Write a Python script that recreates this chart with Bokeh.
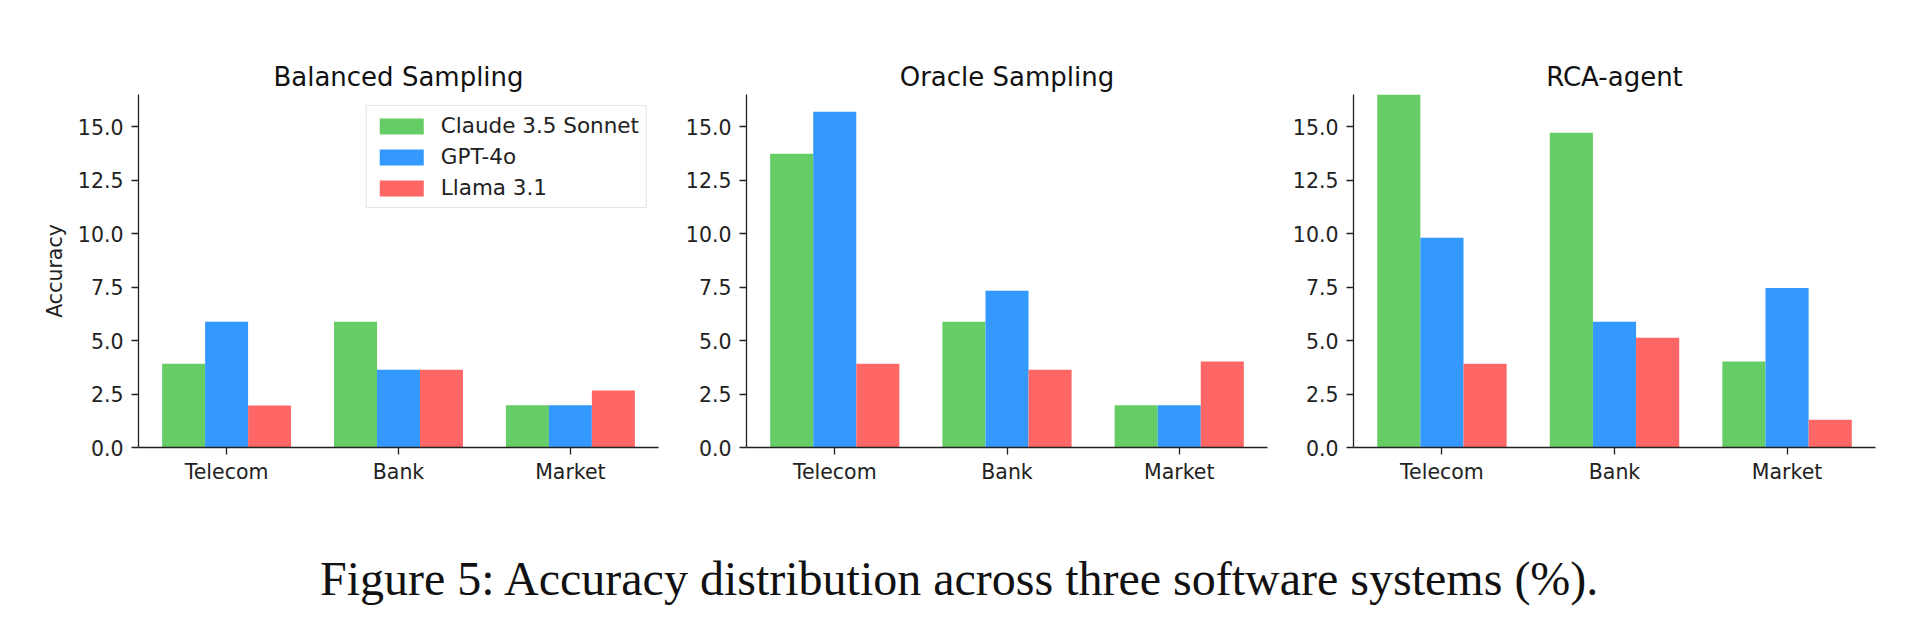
from bokeh.plotting import figure
from bokeh.models import Range1d, FixedTicker, Legend, LegendItem, Label, PrintfTickFormatter
from bokeh.layouts import row, column
from bokeh.embed import file_html
from bokeh.resources import INLINE

# ---- data ----
categories = ["Telecom", "Bank", "Market"]
models = ["Claude 3.5 Sonnet", "GPT-4o", "Llama 3.1"]
colors = ["#66cc66", "#3399ff", "#ff6666"]
panel_titles = ["Balanced Sampling", "Oracle Sampling", "RCA-agent"]

balanced_claude = [3.92, 5.88, 1.98]
balanced_gpt = [5.88, 3.64, 1.98]
balanced_llama = [1.96, 3.64, 2.67]

oracle_claude = [13.73, 5.88, 1.98]
oracle_gpt = [15.69, 7.33, 1.98]
oracle_llama = [3.92, 3.64, 4.02]

rca_claude = [16.50, 14.71, 4.02]
rca_gpt = [9.80, 5.88, 7.45]
rca_llama = [3.92, 5.13, 1.30]

y_ticks = [0, 2.5, 5, 7.5, 10, 12.5, 15]
y_max = 16.5
bar_width = 0.25
caption = "Figure 5: Accuracy distribution across three software systems (%)."

FONT = "DejaVu Sans"
TXT = "#222222"


def make_panel(title, series, width, left, right, ylabel=None, legend=False):
    n = len(categories)
    span = (n - 1) + len(series) * bar_width
    pad = 0.05 * span
    lo = -len(series) * bar_width / 2 - pad
    hi = (n - 1) + len(series) * bar_width / 2 + pad
    p = figure(width=width, height=500, x_range=Range1d(lo, hi), y_range=Range1d(0, y_max),
               output_backend="svg", toolbar_location=None,
               min_border_left=left, min_border_right=right,
               min_border_top=94, min_border_bottom=53, title=title)
    p.outline_line_color = None
    p.grid.visible = False
    p.background_fill_color = "white"
    p.border_fill_color = "white"
    p.title.text_font = FONT
    p.title.text_font_size = "26px"
    p.title.text_font_style = "normal"
    p.title.text_color = "#111111"
    p.title.align = "center"
    p.title.standoff = 5

    renderers = []
    for j, vals in enumerate(series):
        xs = [i + (j - (len(series) - 1) / 2) * bar_width for i in range(n)]
        r = p.vbar(x=xs, top=vals, bottom=0, width=bar_width,
                   fill_color=colors[j], line_color=None)
        renderers.append(r)

    p.xaxis.ticker = FixedTicker(ticks=list(range(n)))
    p.xaxis.major_label_overrides = {i: c for i, c in enumerate(categories)}
    p.yaxis.ticker = FixedTicker(ticks=y_ticks)
    p.yaxis.formatter = PrintfTickFormatter(format="%.1f")
    for ax in (p.xaxis[0], p.yaxis[0]):
        ax.axis_line_color = TXT
        ax.axis_line_width = 1.3
        ax.major_tick_line_color = TXT
        ax.major_tick_line_width = 1.3
        ax.major_tick_out = 7
        ax.major_tick_in = 0
        ax.minor_tick_out = 0
        ax.minor_tick_in = 0
        ax.major_label_text_font = FONT
        ax.major_label_text_font_size = "20.5px"
        ax.major_label_text_color = TXT
    p.xaxis.major_label_standoff = 5
    p.yaxis.major_label_standoff = 8
    if ylabel:
        p.yaxis.axis_label = ylabel
        p.yaxis.axis_label_text_font = FONT
        p.yaxis.axis_label_text_font_size = "20.5px"
        p.yaxis.axis_label_text_font_style = "normal"
        p.yaxis.axis_label_text_color = TXT
        p.yaxis.axis_label_standoff = 8
    if legend:
        lg = Legend(items=[LegendItem(label=m, renderers=[r]) for m, r in zip(models, renderers)],
                    location="top_right")
        lg.label_text_font = FONT
        lg.label_text_font_size = "21.5px"
        lg.label_text_color = TXT
        lg.glyph_width = 55
        lg.glyph_height = 20
        lg.label_standoff = 12
        lg.spacing = 6
        lg.padding = 7
        lg.margin = 11
        lg.border_line_color = "#cccccc"
        lg.border_line_width = 1
        lg.background_fill_alpha = 0.8
        p.add_layout(lg)
    return p


p1 = make_panel(panel_titles[0], [balanced_claude, balanced_gpt, balanced_llama], 678, 138, 20,
                ylabel="Accuracy", legend=True)
p2 = make_panel(panel_titles[1], [oracle_claude, oracle_gpt, oracle_llama], 609, 68, 20)
p3 = make_panel(panel_titles[2], [rca_claude, rca_gpt, rca_llama], 633, 66, 45)

cap = figure(width=1920, height=133, x_range=Range1d(0, 1920), y_range=Range1d(633, 500),
             output_backend="svg", toolbar_location=None,
             min_border=0, min_border_left=0, min_border_right=0, min_border_top=0, min_border_bottom=0)
cap.axis.visible = False
cap.grid.visible = False
cap.outline_line_color = None
cap.add_layout(Label(x=960, y=578, text=caption, text_align="center", text_baseline="middle",
                     text_font="Liberation Serif", text_font_size="48px", text_color="#111111"))

layout = column(row(p1, p2, p3, spacing=0), cap, spacing=0)
open("out.html", "w").write(file_html(layout, INLINE))
